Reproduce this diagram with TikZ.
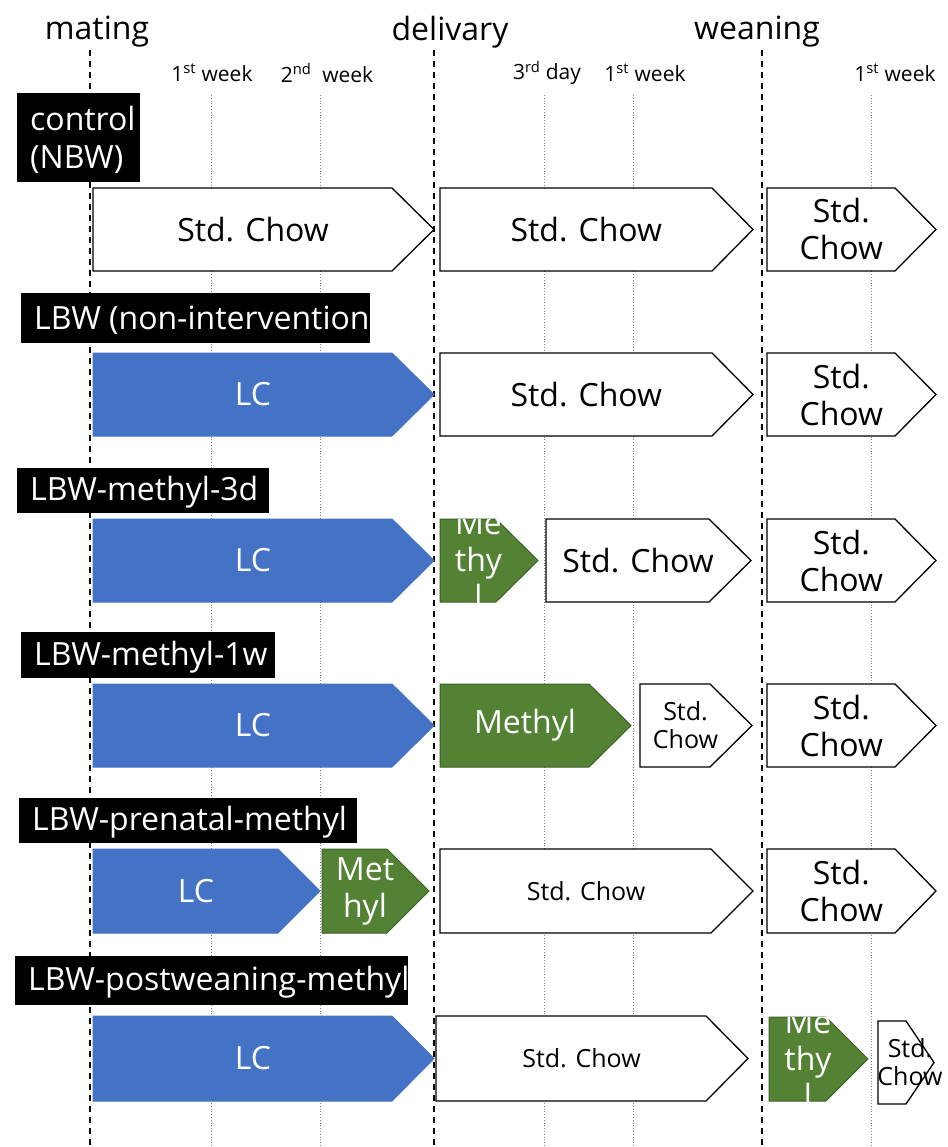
\documentclass[tikz,border=0pt]{standalone}
\usepackage{fontspec}
\setmainfont{Open Sans}

\definecolor{lcblue}{HTML}{4472C4}
\definecolor{mgreen}{HTML}{548235}
\definecolor{mgreenline}{HTML}{3B5E25}

\tikzset{
  lc/.style={fill=lcblue, draw=lcblue, line width=1pt},
  methyl/.style={fill=mgreen, draw=mgreenline, line width=1pt},
  chow/.style={fill=white, draw=black, line width=1.3pt},
  big/.style={font=\fontsize{32}{37}\selectfont, align=center, inner sep=0pt},
  mid/.style={font=\fontsize{25}{28}\selectfont, align=center, inner sep=0pt},
  wtext/.style={text=white},
  head/.style={font=\fontsize{32}{36}\selectfont, inner sep=0pt},
  wk/.style={font=\fontsize{21}{24}\selectfont, inner sep=0pt},
  grptext/.style={font=\fontsize{32}{38}\selectfont, text=white, align=left, inner sep=0pt, anchor=west},
  stage/.style={line width=1.3pt, dash pattern=on 6pt off 5pt},
  sub/.style={gray, line width=0.8pt, dotted}
}

% pentagon arrow: style, name, left x, shoulder x, tip x, top y, bottom y, text style, text
\newcommand{\penta}[9]{%
  \draw[#1] (#3,#6) -- (#4,#6) -- (#5,{(#6+#7)/2}) -- (#4,#7) -- (#3,#7) -- cycle;
  \begin{scope}
    \clip (#3-40,#6) rectangle (#5+40,#7);
    \node[#8] (#2) at ({(2*#3+#4+#5)/4},{(#6+#7)/2}) {#9};
  \end{scope}}

% black group label: name, x1, y1, x2, y2, text
\newcommand{\grp}[6]{%
  \fill[black] (#2,#3) rectangle (#4,#5);
  \begin{scope}
    \clip (#2,#3) rectangle (#4,#5);
    \node[grptext] (#1) at (#2+13,{(#3+#5)/2+2}) {#6};
  \end{scope}}

\begin{document}
\begin{tikzpicture}[x=1pt, y=-1pt]
  \useasboundingbox (0,0) rectangle (947,1147);

  % time axis
  \node[head] (mating) at (97,32) {mating};
  \node[head] (delivary) at (450,32) {delivary};
  \node[head] (weaning) at (757,32) {weaning};
  \node[wk] (w1) at (212,73) {1\textsuperscript{st} week};
  \node[wk] (w2) at (327,73) {2\textsuperscript{nd}\ \ week};
  \node[wk] (d3) at (547,73) {3\textsuperscript{rd} day};
  \node[wk] (pw1) at (645,73) {1\textsuperscript{st} week};
  \node[wk] (ww1) at (895,73) {1\textsuperscript{st} week};

  \foreach \x in {90,434,762}
    \draw[stage] (\x,50) -- (\x,1147);
  \foreach \x in {211,320,544,633,871}
    \draw[sub] (\x,95) -- (\x,1147);

  % control
  \grp{g1}{17}{93}{140}{182}{control\\(NBW)}
  \penta{chow}{c11}{93}{392}{434}{188}{271}{big}{Std. Chow}
  \penta{chow}{c12}{440}{712}{753}{188}{271}{big}{Std. Chow}
  \penta{chow}{c13}{767}{895}{936}{188}{271}{big}{Std.\\Chow}

  % LBW
  \grp{g2}{21}{293}{370}{343}{LBW (non-intervention)}
  \penta{lc}{c21}{93}{392}{434}{353}{436}{big,wtext}{LC}
  \penta{chow}{c22}{440}{712}{753}{353}{436}{big}{Std. Chow}
  \penta{chow}{c23}{767}{895}{936}{353}{436}{big}{Std.\\Chow}

  % methyl 3d
  \grp{g3}{17}{468}{269}{513}{LBW-methyl-3d}
  \penta{lc}{c31}{93}{392}{434}{519}{602}{big,wtext}{LC}
  \penta{methyl}{c32}{440}{496}{538}{519}{602}{big,wtext}{Me\\thy\\l}
  \penta{chow}{c33}{546}{709}{751}{519}{602}{big}{Std. Chow}
  \penta{chow}{c34}{767}{895}{936}{519}{602}{big}{Std.\\Chow}

  % methyl 1w
  \grp{g4}{21}{632}{275}{678}{LBW-methyl-1w}
  \penta{lc}{c41}{93}{392}{434}{684}{767}{big,wtext}{LC}
  \penta{methyl}{c42}{440}{589}{631}{684}{767}{big,wtext}{Methyl}
  \penta{chow}{c43}{640}{710}{752}{684}{767}{mid}{Std.\\Chow}
  \penta{chow}{c44}{767}{895}{936}{684}{767}{big}{Std.\\Chow}

  % prenatal
  \grp{g5}{19}{798}{357}{843}{LBW-prenatal-methyl}
  \penta{lc}{c51}{93}{278}{320}{849}{933}{big,wtext}{LC}
  \penta{methyl}{c52}{322}{387}{429}{849}{933}{big,wtext}{Met\\hyl}
  \penta{chow}{c53}{440}{711}{753}{849}{933}{mid}{Std. Chow}
  \penta{chow}{c54}{767}{895}{936}{849}{933}{big}{Std.\\Chow}

  % postweaning
  \grp{g6}{15}{956}{408}{1005}{LBW-postweaning-methyl}
  \penta{lc}{c61}{93}{392}{434}{1016}{1101}{big,wtext}{LC}
  \penta{chow}{c62}{436}{706}{748}{1016}{1101}{mid}{Std. Chow}
  \penta{methyl}{c63}{769}{826}{868}{1017}{1101}{big,wtext}{Me\\thy\\l}
  \penta{chow}{c64}{878}{906}{934}{1021}{1104}{mid,xshift=11}{Std.\\Chow}
\end{tikzpicture}
\end{document}
